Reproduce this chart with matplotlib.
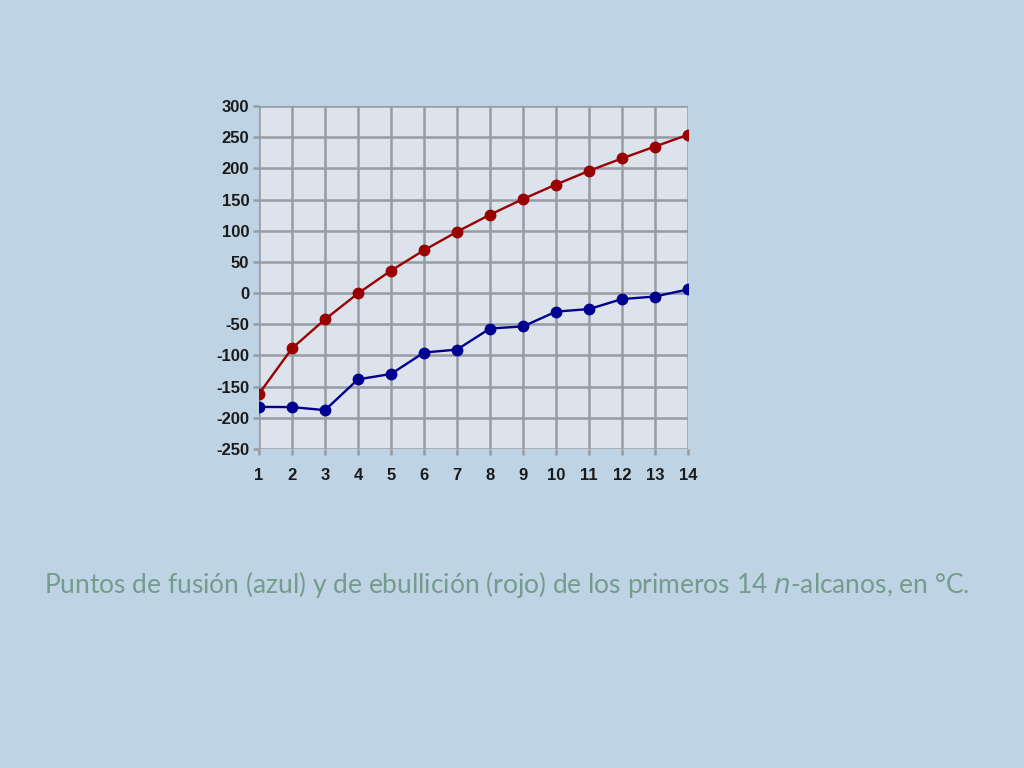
import numpy as np
import matplotlib.pyplot as plt

# n-alcanos: numero de carbonos
carbonos = list(range(1, 15))
# Puntos de fusion (azul), en grados C
fusion = [-182.5, -182.8, -187.7, -138.3, -129.7, -95.3, -90.6, -56.8,
          -53.5, -29.7, -25.6, -9.6, -5.5, 5.9]
# Puntos de ebullicion (rojo), en grados C
ebullicion = [-161.5, -88.6, -42.1, -0.5, 36.1, 68.7, 98.4, 125.7,
              150.8, 174.1, 196.0, 216.0, 235.0, 254.0]

yticks = list(range(-250, 301, 50))
caption = "Puntos de fusión (azul) y de ebullición (rojo) de los primeros 14 $\\it{n}$-alcanos, en °C."

plt.rcParams['axes.unicode_minus'] = False

fig = plt.figure(figsize=(10.24, 7.68), dpi=100)
fig.patch.set_facecolor('#BED3E4')

ax = fig.add_axes([259 / 1024, 1 - 449 / 768, 429 / 1024, 343 / 768])
ax.set_facecolor('#DCE3EC')

ax.plot(carbonos, ebullicion, color='#990000', lw=1.7, marker='o', ms=7.5, zorder=3)
ax.plot(carbonos, fusion, color='#000090', lw=1.7, marker='o', ms=7.5, zorder=3)

ax.set_xlim(1, 14)
ax.set_ylim(-250, 300)
ax.set_xticks(carbonos)
ax.set_yticks(yticks)
ax.set_yticklabels([str(v) for v in yticks])
ax.grid(True, color='#979CA3', lw=1.8)
ax.set_axisbelow(True)
for s in ax.spines.values():
    s.set_visible(False)
ax.tick_params(length=4, width=1.8, color='#979CA3', pad=3)
for lab in ax.get_xticklabels() + ax.get_yticklabels():
    lab.set_fontfamily('Liberation Sans')
    lab.set_fontweight('bold')
    lab.set_fontsize(12)
    lab.set_color('#1a1a1a')
ax.tick_params(axis='x', pad=10)

fig.text(507 / 1024, 1 - 585 / 768, caption, ha='center', va='center',
         fontsize=19, color='#749C8E', family='Lato')

fig.savefig('out.png', dpi=100, facecolor=fig.get_facecolor())
